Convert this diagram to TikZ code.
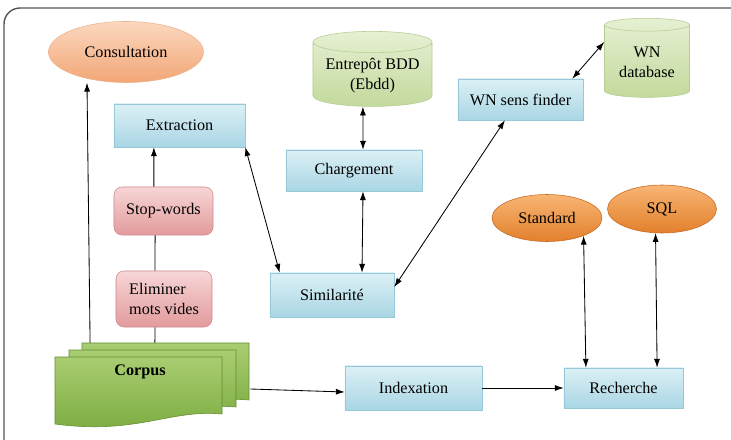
\documentclass[tikz,border=0pt]{standalone}
\usepackage{fontspec}
\setmainfont{Liberation Serif}
\usetikzlibrary{positioning,shapes.geometric,arrows.meta}

\definecolor{bluetop}{HTML}{DCF0F6}
\definecolor{bluebot}{HTML}{A9D6E4}
\definecolor{blueline}{HTML}{96C8D7}
\definecolor{pinktop}{HTML}{F7D6D6}
\definecolor{pinkbot}{HTML}{E29A9C}
\definecolor{pinkline}{HTML}{D08A8C}
\definecolor{dbtop}{HTML}{E6F0D3}
\definecolor{dbbot}{HTML}{C3D99C}
\definecolor{dbline}{HTML}{B5CD90}
\definecolor{corptop}{HTML}{A9CD72}
\definecolor{corpbot}{HTML}{7AAA3E}
\definecolor{corpline}{HTML}{628F2E}
\definecolor{peachtop}{HTML}{FBD8BF}
\definecolor{peachbot}{HTML}{F2A676}
\definecolor{peachline}{HTML}{EDB38C}
\definecolor{orgtop}{HTML}{F8B574}
\definecolor{orgbot}{HTML}{E2802C}
\definecolor{orgline}{HTML}{C96A22}
\definecolor{frameline}{HTML}{555555}

\begin{document}
\begin{tikzpicture}[x=0.025cm,y=-0.025cm,
    txt/.style={font=\fontsize{11.5}{14}\selectfont,text=black},
    bluebox/.style={draw=blueline,top color=bluetop,bottom color=bluebot,txt,inner sep=1pt},
    pinkbox/.style={draw=pinkline,rounded corners=2mm,top color=pinktop,bottom color=pinkbot,txt,inner sep=1pt},
    dbase/.style={cylinder,shape border rotate=90,aspect=0.22,draw=dbline,top color=dbtop,bottom color=dbbot,txt,align=center,inner sep=1pt},
    peach/.style={ellipse,draw=peachline,top color=peachtop,bottom color=peachbot,txt,inner sep=0pt},
    orange/.style={ellipse,draw=orgline,top color=orgtop,bottom color=orgbot,txt,inner sep=0pt},
    docpage/.style={draw=corpline,top color=corptop,bottom color=corpbot},
    arr/.style={-{Latex[length=2.2mm,width=1.5mm]},line width=0.6pt},
    biarr/.style={{Latex[length=2.2mm,width=1.5mm]}-{Latex[length=2.2mm,width=1.5mm]},line width=0.6pt},
    link/.style={line width=0.6pt}]
    \useasboundingbox[fill=white] (0,0) rectangle (731,440);
    \draw[frameline,line width=1pt,rounded corners=0.4cm] (4,440) -- (4,8) -- (731,8);

    % corpus pages
    \path[docpage] (82,343) -- ++(167,0) -- ++(0,57) .. controls +(-52,-5) and +(82,11) .. ++(-167,10) -- cycle;
    \path[docpage] (69,350) -- ++(167,0) -- ++(0,57) .. controls +(-52,-5) and +(82,11) .. ++(-167,10) -- cycle;
    \path[docpage] (55,357) -- ++(167,0) -- ++(0,57) .. controls +(-52,-5) and +(82,11) .. ++(-167,10) -- cycle;
    \node[minimum width=4.875cm,minimum height=2.1cm,inner sep=0pt] (corpusbox) at (152.5,385) {};
    \node[txt,font=\fontsize{11.5}{14}\selectfont\bfseries] (corpus) at (140,372) {Corpus};

    % nodes
    \node[peach,minimum width=3.875cm,minimum height=1.525cm] (consult) at (126,52) {Consultation};
    \node[bluebox,minimum width=3.275cm,minimum height=1.075cm] (extract) at (179.5,125.5) {Extraction};
    \node[pinkbox,minimum width=2.475cm,minimum height=1.2cm] (stopw) at (163.5,211) {Stop-words};
    \node[pinkbox,minimum width=2.4cm,minimum height=1.4cm,align=left] (elim) at (164,299) {Eliminer\\mots vides};
    \node[dbase,minimum width=2.975cm,minimum height=1.875cm] (entrepot) at (372.5,75.5) {Entrepôt BDD\\(Ebdd)};
    \node[bluebox,minimum width=3.4cm,minimum height=1.025cm] (charg) at (354,170.5) {Chargement};
    \node[bluebox,minimum width=3.1cm,minimum height=1.1cm] (simil) at (332,295) {Similarité};
    \node[bluebox,minimum width=3.125cm,minimum height=1.025cm] (wnsens) at (520.5,99.5) {WN sens finder};
    \node[dbase,minimum width=2.125cm,minimum height=1.975cm] (wndb) at (647,62) {WN\\database};
    \node[orange,minimum width=2.75cm,minimum height=1.175cm] (standard) at (547,218) {Standard};
    \node[orange,minimum width=2.725cm,minimum height=1.2cm] (sql) at (662,209) {SQL};
    \node[bluebox,minimum width=3.425cm,minimum height=1.1cm] (index) at (413.5,388) {Indexation};
    \node[bluebox,minimum width=2.975cm,minimum height=1.0cm] (recherche) at (623.5,388) {Recherche};

    % connectors
    \draw[arr] ([xshift=-15.6mm]corpusbox.north) -- ([xshift=-9.75mm]consult.south);
    \draw[arr] ([xshift=-2.4mm]stopw.north) -- ([xshift=-6.4mm]extract.south);
    \draw[link] ([xshift=-2.1mm]stopw.south) -- ([xshift=-2.25mm]elim.north);
    \draw[link] ([xshift=-2.25mm]elim.south) -- ([xshift=0.6mm]corpusbox.north);
    \draw[biarr] (extract.south east) -- ([xshift=2.5mm]simil.north west);
    \draw[biarr] ([xshift=-2.4mm]entrepot.south) -- ([xshift=2.25mm]charg.north);
    \draw[biarr] ([xshift=2.25mm]charg.south) -- ([xshift=7.5mm]simil.north);
    \draw[biarr] ([yshift=2mm]simil.east) -- ([xshift=-3.9mm]wnsens.south);
    \draw[biarr] ([xshift=-2.75mm]wnsens.north east) -- ([yshift=5mm]wndb.west);
    \draw[arr] ([yshift=-1mm]corpusbox.east) -- ([yshift=-1mm]index.west);
    \draw[arr] (index.east) -- (recherche.west);
    \draw[biarr] (standard.-26) -- ([xshift=-9.4mm]recherche.north);
    \draw[biarr] (sql.-105) -- ([xshift=8.4mm]recherche.north);
\end{tikzpicture}
\end{document}
